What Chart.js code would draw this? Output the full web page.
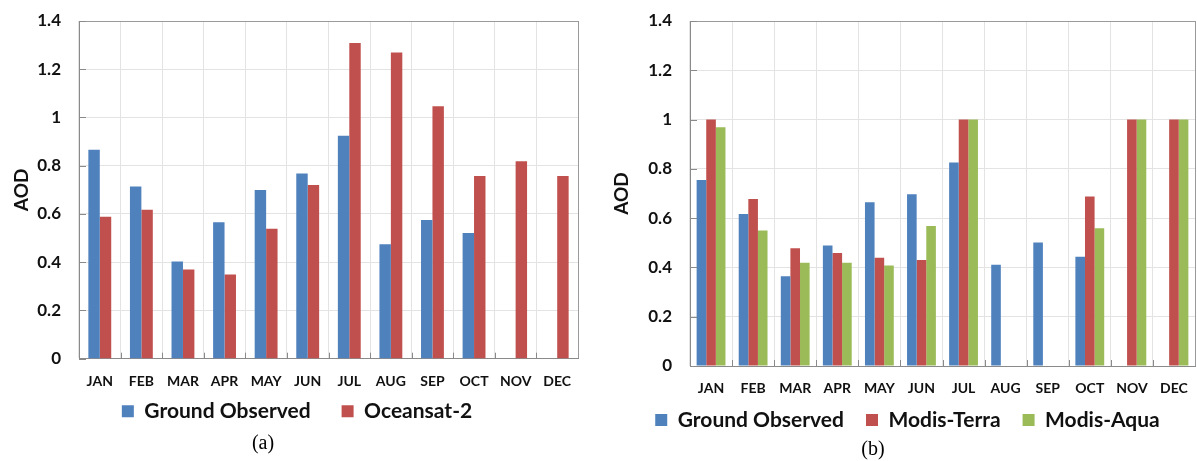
<!DOCTYPE html>
<html>
<head>
<meta charset="utf-8">
<script src="https://cdn.jsdelivr.net/npm/chart.js@4"></script>
<style>
  body { margin: 0; background: #fff; }
  .box { position: absolute; top: 0; }
  .cap { position: absolute; font-family: "Liberation Serif", serif; font-size: 20px; color: #000; transform: translate(-50%, -50%); }
</style>
</head>
<body>
<div class="box" style="left:0px"><canvas id="chartA" width="600" height="461"></canvas></div>
<div class="box" style="left:600px"><canvas id="chartB" width="597" height="461"></canvas></div>
<div class="cap" style="left:263px; top:442px">(a)</div>
<div class="cap" style="left:873px; top:448px">(b)</div>
<script>
const months = ["JAN", "FEB", "MAR", "APR", "MAY", "JUN", "JUL", "AUG", "SEP", "OCT", "NOV", "DEC"];

// panel (a)
const groundA = [0.866, 0.714, 0.403, 0.566, 0.699, 0.768, 0.924, 0.474, 0.575, 0.521, null, null];
const oceansat = [0.588, 0.618, 0.370, 0.349, 0.539, 0.720, 1.309, 1.269, 1.047, 0.757, 0.819, 0.757];

// panel (b)
const groundB = [0.755, 0.617, 0.364, 0.489, 0.664, 0.697, 0.826, 0.411, 0.501, 0.443, null, null];
const terra = [1.0, 0.678, 0.478, 0.459, 0.439, 0.430, 1.0, null, null, 0.688, 1.0, 1.0];
const aqua = [0.969, 0.550, 0.419, 0.419, 0.408, 0.568, 1.0, null, null, 0.559, 1.0, 1.0];

const yMin = 0, yMax = 1.4, yStep = 0.2;

const BLUE = "#4f81bd", RED = "#c0504d", GREEN = "#9bbb59";
const AXIS = "#8a8a8a";

Chart.defaults.font.family = "Lato";
Chart.defaults.color = "#111";

// move the legend so the item gap can stay wide
const legendShift = {
  id: "legendShift",
  afterLayout(chart, args, opts) {
    const l = chart.legend;
    if (!l) return;
    l.top -= opts.dy;
    l.bottom -= opts.dy;
    l.left += opts.dx;
    l.right += opts.dx;
  }
};

// short tick marks pointing into the plot, like the excel original
const innerTicks = {
  id: "innerTicks",
  afterDatasetsDraw(chart) {
    const { ctx, chartArea, scales } = chart;
    const x = scales.x, y = scales.y;
    ctx.save();
    ctx.strokeStyle = AXIS;
    ctx.lineWidth = 1;
    ctx.beginPath();
    y.ticks.forEach((t) => {
      const py = Math.round(y.getPixelForValue(t.value)) + 0.5;
      ctx.moveTo(chartArea.left, py);
      ctx.lineTo(chartArea.left + 7, py);
    });
    for (let i = 1; i < months.length; i++) {
      const px = Math.round(x.getPixelForValue(i - 0.5)) + 0.5;
      ctx.moveTo(px, chartArea.bottom);
      ctx.lineTo(px, chartArea.bottom - 6);
    }
    ctx.stroke();
    ctx.restore();
  }
};

function makeChart(el, datasets, cfg) {
  return new Chart(el, {
    type: "bar",
    data: { labels: months, datasets: datasets },
    plugins: [legendShift, innerTicks],
    options: {
      responsive: false,
      animation: false,
      layout: { padding: cfg.padding },
      datasets: { bar: { categoryPercentage: cfg.catPct, barPercentage: 1 } },
      scales: {
        x: {
          grid: {
            color: (c) => (c.type === "tick" ? "#e3e3e3" : "#9a9a9a"),
            tickLength: 6,
            tickColor: "rgba(0,0,0,0)"
          },
          border: { color: AXIS },
          ticks: { font: { size: 14, weight: "bold" }, padding: 8, color: "#111" },
          afterFit: (s) => { s.height = 30; }
        },
        y: {
          min: yMin,
          max: yMax,
          ticks: {
            stepSize: yStep,
            font: { size: 17, weight: "bold" },
            padding: 10,
            color: "#111",
            callback: (v) => String(Number(v.toFixed(1)))
          },
          grid: {
            color: (c) => (c.tick && c.tick.value === yMax ? "#9a9a9a" : "#e3e3e3"),
            tickLength: 8,
            tickColor: "rgba(0,0,0,0)"
          },
          border: { color: AXIS },
          title: {
            display: true,
            text: "AOD",
            font: { size: 19, weight: "bold" },
            color: "#111",
            padding: { top: 10, bottom: 0 }
          },
          afterFit: (s) => { s.width = cfg.yWidth; }
        }
      },
      plugins: {
        tooltip: { enabled: false },
        legendShift: { dx: cfg.dx, dy: cfg.dy },
        legend: {
          position: "bottom",
          labels: {
            boxWidth: 12,
            boxHeight: 12,
            padding: cfg.legendPad,
            color: "#111",
            font: { size: 21, weight: "bold" }
          }
        }
      }
    }
  });
}

makeChart(document.getElementById("chartA"), [
  { label: "Ground Observed", data: groundA, backgroundColor: BLUE },
  { label: "Oceansat-2", data: oceansat, backgroundColor: RED }
], { padding: { top: 21, left: 0, right: 22, bottom: 10.3 }, catPct: 0.55, yWidth: 79, legendPad: 31, dy: 19, dx: 8 });

makeChart(document.getElementById("chartB"), [
  { label: "Ground Observed", data: groundB, backgroundColor: BLUE },
  { label: "Modis-Terra", data: terra, backgroundColor: RED },
  { label: "Modis-Aqua", data: aqua, backgroundColor: GREEN }
], { padding: { top: 21, left: 0, right: 2, bottom: 12 }, catPct: 0.685, yWidth: 90, legendPad: 22, dy: 8.5, dx: 10 });
</script>
</body>
</html>
